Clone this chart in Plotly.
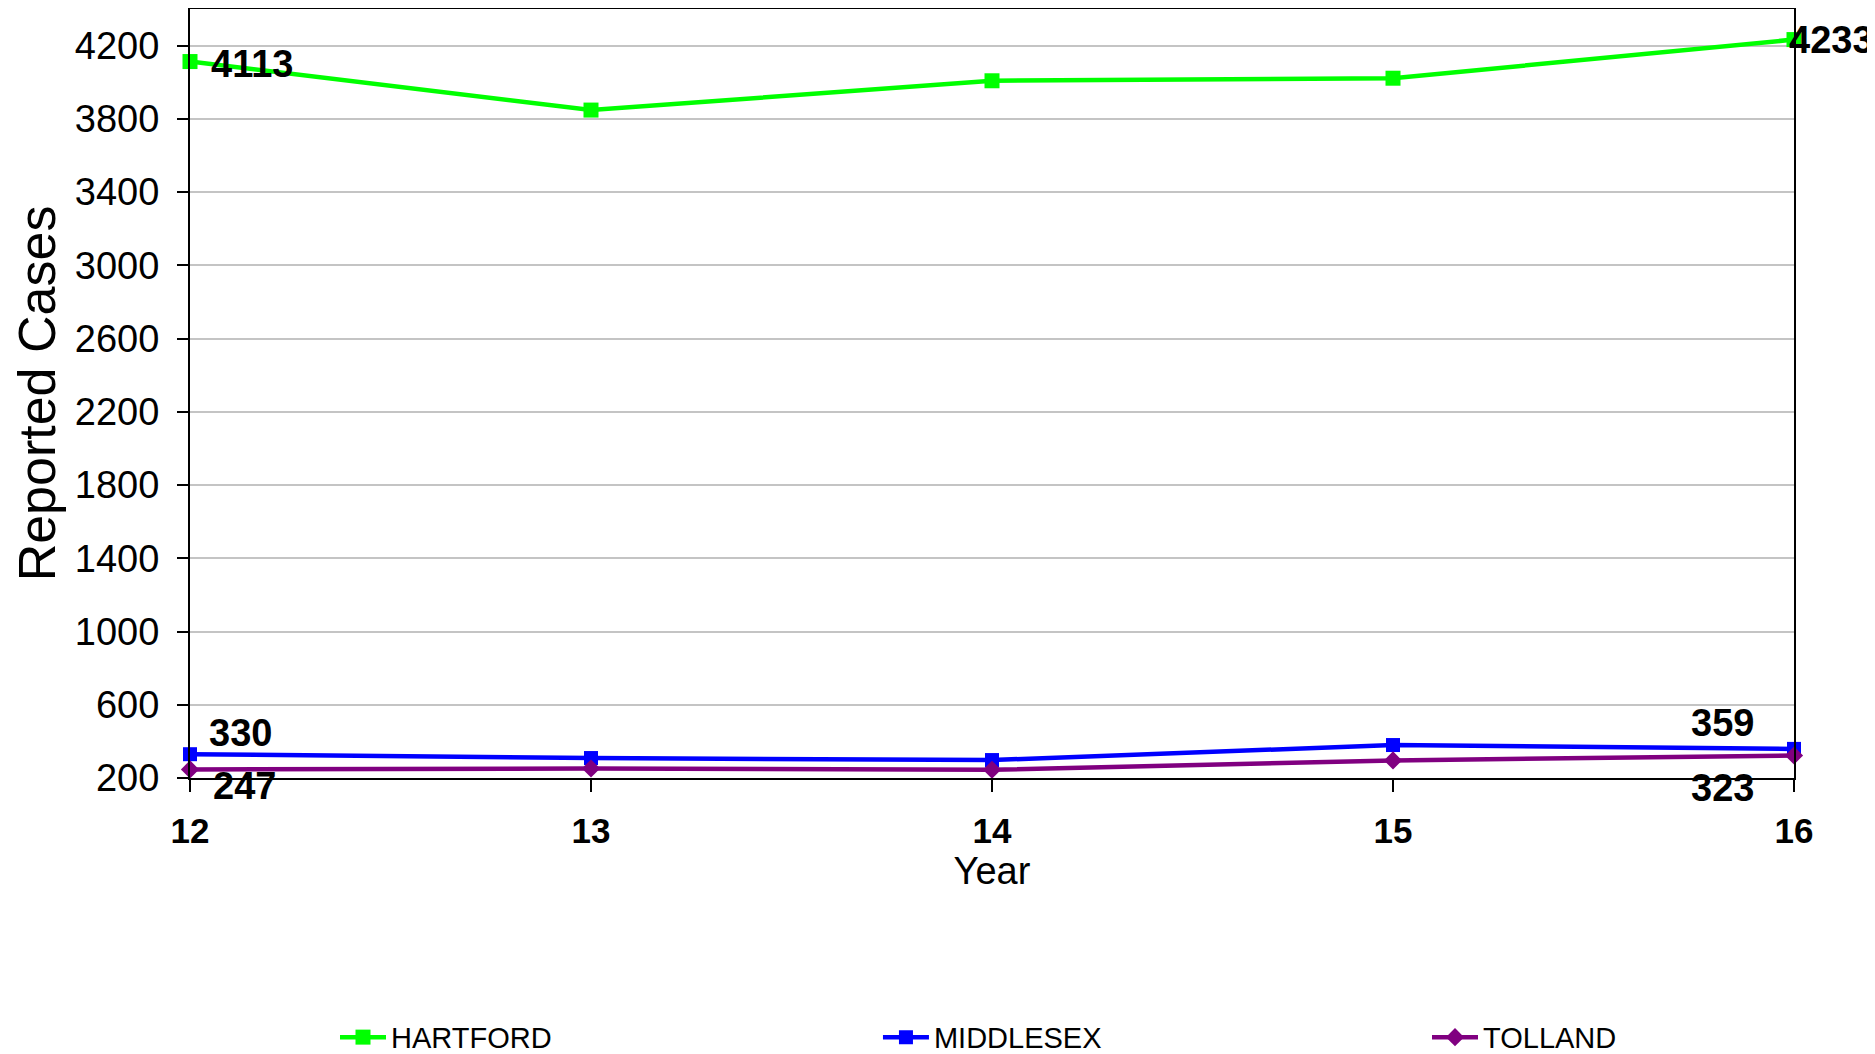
import plotly.graph_objects as go

years = [12, 13, 14, 15, 16]
hartford = [4113, 3848, 4008, 4022, 4233]
middlesex = [330, 309, 298, 380, 359]
tolland = [247, 252, 245, 296, 323]
y_ticks = list(range(200, 4201, 400))

FONT = "Liberation Sans, Arial, sans-serif"

fig = go.Figure()
fig.add_trace(go.Scatter(x=years, y=hartford, name="HARTFORD", mode="lines+markers",
                         line=dict(color="#00FF00", width=4.5),
                         marker=dict(symbol="square", size=15, color="#00FF00"),
                         cliponaxis=False, legend="legend"))
fig.add_trace(go.Scatter(x=years, y=middlesex, name="MIDDLESEX", mode="lines+markers",
                         line=dict(color="#0000FF", width=4.5),
                         marker=dict(symbol="square", size=14, color="#0000FF"),
                         cliponaxis=False, legend="legend2"))
fig.add_trace(go.Scatter(x=years, y=tolland, name="TOLLAND", mode="lines+markers",
                         line=dict(color="#800080", width=4.5),
                         marker=dict(symbol="diamond", size=14, color="#800080"),
                         cliponaxis=False, legend="legend3"))

# data labels (first and last point of each series)
labels = [
    (years[0], hartford[0], 62, -2),
    (years[-1], hartford[-1], 37, 0),
    (years[0], middlesex[0], 50, 21),
    (years[-1], middlesex[-1], -72, 26),
    (years[0], tolland[0], 54, -17),
    (years[-1], tolland[-1], -72, -33),
]
for xv, yv, dx, dy in labels:
    fig.add_annotation(x=xv, y=yv, xref="x", yref="y", text=f"<b>{yv}</b>",
                       showarrow=False, xshift=dx, yshift=dy,
                       font=dict(family=FONT, size=38, color="black"))

def leg(xpos):
    return dict(orientation="h", x=xpos, xanchor="left", y=-0.304, yanchor="top",
                font=dict(family=FONT, size=29, color="black"), itemwidth=46,
                bgcolor="rgba(0,0,0,0)")

fig.update_layout(
    width=1867, height=1046,
    margin=dict(l=182, r=81, t=1, b=276, autoexpand=False),
    paper_bgcolor="white", plot_bgcolor="white",
    font=dict(family=FONT, color="black"),
    showlegend=True,
    legend=leg(0.0904),
    legend2=leg(0.4289),
    legend3=leg(0.7712),
)
fig.update_xaxes(
    range=[12, 16], tickmode="array", tickvals=years, ticktext=[str(y) for y in years],
    ticks="outside", ticklen=12, tickwidth=1.5, tickcolor="black",
    tickfont=dict(family=FONT, size=35, weight="bold"),
    ticklabelstandoff=9,
    showline=True, linecolor="black", linewidth=2, mirror=True,
    showgrid=False, zeroline=False, automargin=False,
    title=dict(text="Year", font=dict(family=FONT, size=38), standoff=2),
)
fig.update_yaxes(
    range=[200, 4400], tickmode="array", tickvals=y_ticks,
    ticks="outside", ticklen=11, tickwidth=1.5, tickcolor="black",
    tickfont=dict(family=FONT, size=38),
    ticklabelstandoff=10,
    showline=True, linecolor="black", linewidth=2, mirror=True,
    showgrid=True, gridcolor="#c4c4c4", gridwidth=1.5, zeroline=False, automargin=False,
    title=dict(text="Reported Cases", font=dict(family=FONT, size=52), standoff=15),
)

fig.write_html("out.html")
